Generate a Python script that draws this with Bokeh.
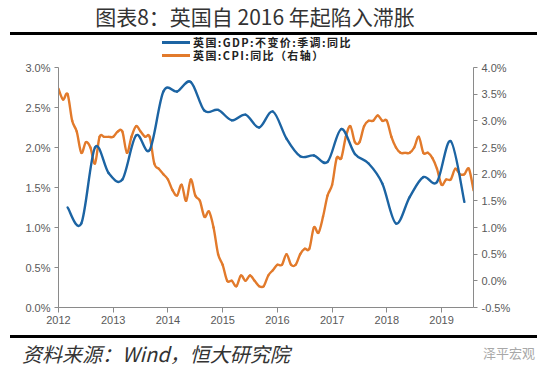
from bokeh.plotting import figure
from bokeh.layouts import column
from bokeh.models import (Range1d, LinearAxis, PrintfTickFormatter, FixedTicker,
                          ColumnDataSource, Div)
from bokeh.embed import file_html
from bokeh.resources import INLINE

# ---------------- data ----------------
year_ticks = [2012, 2013, 2014, 2015, 2016, 2017, 2018, 2019]

# UK CPI y/y (%), monthly Jan 2012 - Aug 2019 (right axis)
cpi = [3.6, 3.4, 3.5, 3.0, 2.8, 2.4, 2.6, 2.5, 2.2, 2.7, 2.7, 2.7,
       2.7, 2.8, 2.8, 2.4, 2.7, 2.9, 2.8, 2.7, 2.7, 2.2, 2.1, 2.0,
       1.9, 1.7, 1.6, 1.8, 1.5, 1.9, 1.6, 1.5, 1.2, 1.3, 1.0, 0.5,
       0.3, 0.0, 0.0, -0.1, 0.1, 0.0, 0.1, 0.0, -0.1, -0.1, 0.1, 0.2,
       0.3, 0.3, 0.5, 0.3, 0.3, 0.5, 0.6, 0.6, 1.0, 0.9, 1.2, 1.6,
       1.8, 2.3, 2.3, 2.7, 2.9, 2.6, 2.6, 2.9, 3.0, 3.0, 3.1, 3.0,
       3.0, 2.7, 2.5, 2.4, 2.4, 2.4, 2.5, 2.7, 2.4, 2.4, 2.3, 2.1,
       1.8, 1.9, 1.9, 2.1, 2.0, 2.0, 2.1, 1.7]

# UK GDP constant price, SA, y/y (%), quarterly 2012Q1 - 2019Q2 (left axis)
gdp = [1.25, 1.05, 2.00, 1.68,
       1.60, 2.15, 1.97, 2.70,
       2.70, 2.82, 2.46, 2.47,
       2.34, 2.41, 2.25, 2.45,
       2.11, 1.89, 1.90, 1.82,
       2.23, 1.92, 1.80, 1.55,
       1.05, 1.38, 1.63, 1.57,
       2.08, 1.32]

cpi_x = [2012 + i / 12 for i in range(len(cpi))]
gdp_x = [2012 + (3 * i + 2) / 12 for i in range(len(gdp))]

TITLE = "图表8：英国自 2016 年起陷入滞胀"
SOURCE = "资料来源：Wind，恒大研究院"
MARK = "泽平宏观"
GDP_LABEL = "英国:GDP:不变价:季调:同比"
CPI_LABEL = "英国:CPI:同比（右轴）"

BLUE = "#1c64a3"
ORANGE = "#e27a2b"
AXIS_GREY = "#8a8a8a"
TICK_TXT = "#595959"
CJK = "Noto Sans CJK SC"


def smooth_segments(xs, ys):
    """Cubic Bezier control points (Catmull-Rom) for a smoothed line through the data."""
    n = len(xs)
    d = {k: [] for k in ("x0", "y0", "x1", "y1", "cx0", "cy0", "cx1", "cy1")}
    for i in range(n - 1):
        xm, ym = (xs[i - 1], ys[i - 1]) if i > 0 else (xs[i], ys[i])
        xp, yp = (xs[i + 2], ys[i + 2]) if i + 2 < n else (xs[i + 1], ys[i + 1])
        d["x0"].append(xs[i]); d["y0"].append(ys[i])
        d["x1"].append(xs[i + 1]); d["y1"].append(ys[i + 1])
        d["cx0"].append(xs[i] + (xs[i + 1] - xm) / 6)
        d["cy0"].append(ys[i] + (ys[i + 1] - ym) / 6)
        d["cx1"].append(xs[i + 1] - (xp - xs[i]) / 6)
        d["cy1"].append(ys[i + 1] - (yp - ys[i]) / 6)
    return ColumnDataSource(d)


RULE = ('<div style="height:3px;width:527px;margin-left:10px;'
        'background:#000000;"></div>')


def legend_row(color, label):
    return ('<div style="height:13px;line-height:13px;padding-left:162px;white-space:nowrap;">'
            f'<span style="display:inline-block;width:28px;height:3px;background:{color};'
            'vertical-align:middle;margin-right:3px;"></span>'
            f'<span style="font-family:\'{CJK}\';font-size:11px;font-weight:bold;'
            'letter-spacing:1.4px;line-height:11px;'
            f'color:#222222;vertical-align:middle;">{label}</span></div>')


# ---------------- header: title, rule, legend ----------------
head = Div(width=550, height=61, margin=(0, 0, 0, 0),
           text=('<div style="width:510px;height:32px;line-height:32px;text-align:center;'
                 f'font-family:\'{CJK}\';font-size:21px;color:#333333;white-space:nowrap;">'
                 f'{TITLE}</div>' + RULE +
                 '<div style="height:1px;"></div>' +
                 legend_row(BLUE, GDP_LABEL) + legend_row(ORANGE, CPI_LABEL)))

# ---------------- main chart ----------------
p = figure(width=550, height=274,
           x_range=Range1d(2012, 2019 + 7 / 12), y_range=Range1d(0, 3),
           output_backend="svg", toolbar_location=None,
           min_border_left=58, min_border_right=77,
           min_border_top=6, min_border_bottom=28,
           background_fill_color="white", border_fill_color="white",
           margin=(0, 0, 0, 0))
p.outline_line_color = None
p.grid.visible = False

p.extra_y_ranges = {"r": Range1d(-0.5, 4.0)}

p.xaxis.ticker = FixedTicker(ticks=year_ticks)
p.xaxis.formatter = PrintfTickFormatter(format="%d")
p.yaxis.ticker = FixedTicker(ticks=[0, 0.5, 1.0, 1.5, 2.0, 2.5, 3.0])
p.yaxis.formatter = PrintfTickFormatter(format="%.1f%%")

raxis = LinearAxis(y_range_name="r",
                   ticker=FixedTicker(ticks=[-0.5, 0, 0.5, 1.0, 1.5, 2.0, 2.5, 3.0, 3.5, 4.0]),
                   formatter=PrintfTickFormatter(format="%.1f%%"))
p.add_layout(raxis, "right")

for ax in (p.xaxis[0], p.yaxis[0], raxis):
    ax.axis_line_color = AXIS_GREY
    ax.axis_line_width = 1
    ax.major_tick_line_color = AXIS_GREY
    ax.major_tick_in = 0
    ax.major_tick_out = 4
    ax.minor_tick_line_color = None
    ax.major_label_text_font = "Liberation Sans"
    ax.major_label_text_font_size = "11px"
    ax.major_label_text_color = TICK_TXT
    ax.major_label_standoff = 4
p.xaxis.major_tick_out = 5
p.xaxis.major_label_standoff = 3

p.bezier(x0="x0", y0="y0", x1="x1", y1="y1", cx0="cx0", cy0="cy0",
         cx1="cx1", cy1="cy1", source=smooth_segments(cpi_x, cpi),
         line_color=ORANGE, line_width=2.4, line_cap="round",
         y_range_name="r")
p.bezier(x0="x0", y0="y0", x1="x1", y1="y1", cx0="cx0", cy0="cy0",
         cx1="cx1", cy1="cy1", source=smooth_segments(gdp_x, gdp),
         line_color=BLUE, line_width=2.4, line_cap="round")

# ---------------- footer ----------------
foot = Div(width=550, height=42, margin=(0, 0, 0, 0),
           text=(RULE +
                 '<div style="position:relative;width:550px;height:39px;">'
                 f'<span style="position:absolute;left:22px;top:2px;font-family:\'{CJK}\';'
                 'font-size:20px;font-style:italic;color:#333333;white-space:nowrap;">'
                 f'{SOURCE}</span>'
                 f'<span style="position:absolute;right:15px;top:6px;font-family:\'{CJK}\';'
                 'font-size:13px;color:#a8a8a8;white-space:nowrap;">'
                 f'{MARK}</span></div>'))

layout = column(head, p, foot, spacing=0)
open("out.html", "w").write(file_html(layout, INLINE))
